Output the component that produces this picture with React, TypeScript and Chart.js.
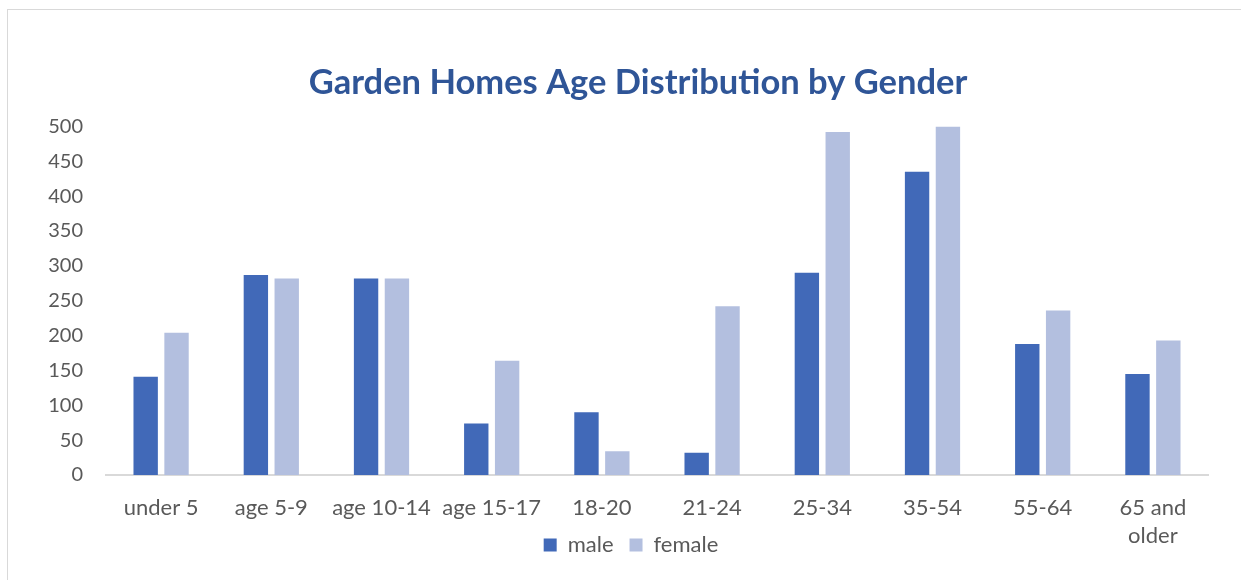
import React, { useEffect, useRef } from "react";
import { Chart, registerables } from "chart.js";

Chart.register(...registerables);

const categories: (string | string[])[] = [
  "under 5",
  "age 5-9",
  "age 10-14",
  "age 15-17",
  "18-20",
  "21-24",
  "25-34",
  "35-54",
  "55-64",
  ["65 and", "older"],
];
const maleValues = [141, 287, 282, 74, 90, 32, 290, 435, 188, 145];
const femaleValues = [204, 282, 282, 164, 34, 242, 492, 500, 236, 193];
const yTicks = [0, 50, 100, 150, 200, 250, 300, 350, 400, 450, 500];
const titleText = "Garden Homes Age Distribution by Gender";

const FONT = "Lato, 'Open Sans', sans-serif";
const LEGEND_PAD = 16;

const boxShift = {
  id: "boxShift",
  afterLayout(chart: any) {
    const lg = chart.legend;
    if (lg) {
      const desiredTop = 545 - 11 - LEGEND_PAD;
      const dy = desiredTop - lg.top;
      lg.top += dy;
      lg.bottom += dy;
      lg.left += 27;
      lg.right += 27;
    }
    const tb = chart.titleBlock;
    if (tb) {
      tb.left += 34;
      tb.right += 34;
    }
  },
};

export default function App() {
  const ref = useRef<HTMLCanvasElement | null>(null);
  useEffect(() => {
    if (!ref.current) return;
    const chart = new Chart(ref.current, {
      type: "bar",
      data: {
        labels: categories,
        datasets: [
          {
            label: "male",
            data: maleValues,
            backgroundColor: "#4169B8",
            borderWidth: 0,
            categoryPercentage: 0.56,
            barPercentage: 0.79,
          },
          {
            label: "female",
            data: femaleValues,
            backgroundColor: "#B3BFDF",
            borderWidth: 0,
            categoryPercentage: 0.56,
            barPercentage: 0.79,
          },
        ],
      },
      plugins: [boxShift],
      options: {
        animation: false,
        responsive: false,
        maintainAspectRatio: false,
        layout: { padding: { left: 0, right: 33, top: 0, bottom: -13 } },
        plugins: {
          title: {
            display: true,
            text: titleText,
            color: "#2F5597",
            font: { family: FONT, size: 34.5, weight: "bold" },
            padding: { top: 62, bottom: 23 },
          },
          legend: {
            display: true,
            position: "bottom",
            labels: {
              color: "#595959",
              font: { family: FONT, size: 22 },
              boxWidth: 13,
              boxHeight: 13,
              padding: LEGEND_PAD,
            },
          },
          tooltip: { enabled: false },
        },
        scales: {
          x: {
            afterFit: (scale: any) => {
              scale.height = 70;
            },
            grid: { display: false, drawTicks: false },
            border: { display: true, color: "#D9D9D9", width: 2 },
            ticks: {
              color: "#595959",
              font: { family: FONT, size: 22, lineHeight: 1.28 },
              padding: 19,
              maxRotation: 0,
              autoSkip: false,
            },
          },
          y: {
            min: 0,
            max: 500,
            afterBuildTicks: (scale: any) => {
              scale.ticks = yTicks.map((v) => ({ value: v }));
            },
            afterFit: (scale: any) => {
              scale.width = 106;
            },
            grid: { display: false, drawTicks: false },
            border: { display: false },
            ticks: {
              color: "#595959",
              font: { family: FONT, size: 20 },
              padding: 23,
            },
          },
        },
      },
    });
    return () => chart.destroy();
  }, []);

  return (
    <div>
      <div
        style={{
          position: "fixed",
          left: 7,
          top: 9,
          width: 1260,
          height: 600,
          border: "1px solid #D9D9D9",
          boxSizing: "border-box",
        }}
      />
      <canvas
        ref={ref}
        width={1241}
        height={580}
        style={{ position: "fixed", left: 0, top: 0, width: 1241, height: 580 }}
      />
    </div>
  );
}
